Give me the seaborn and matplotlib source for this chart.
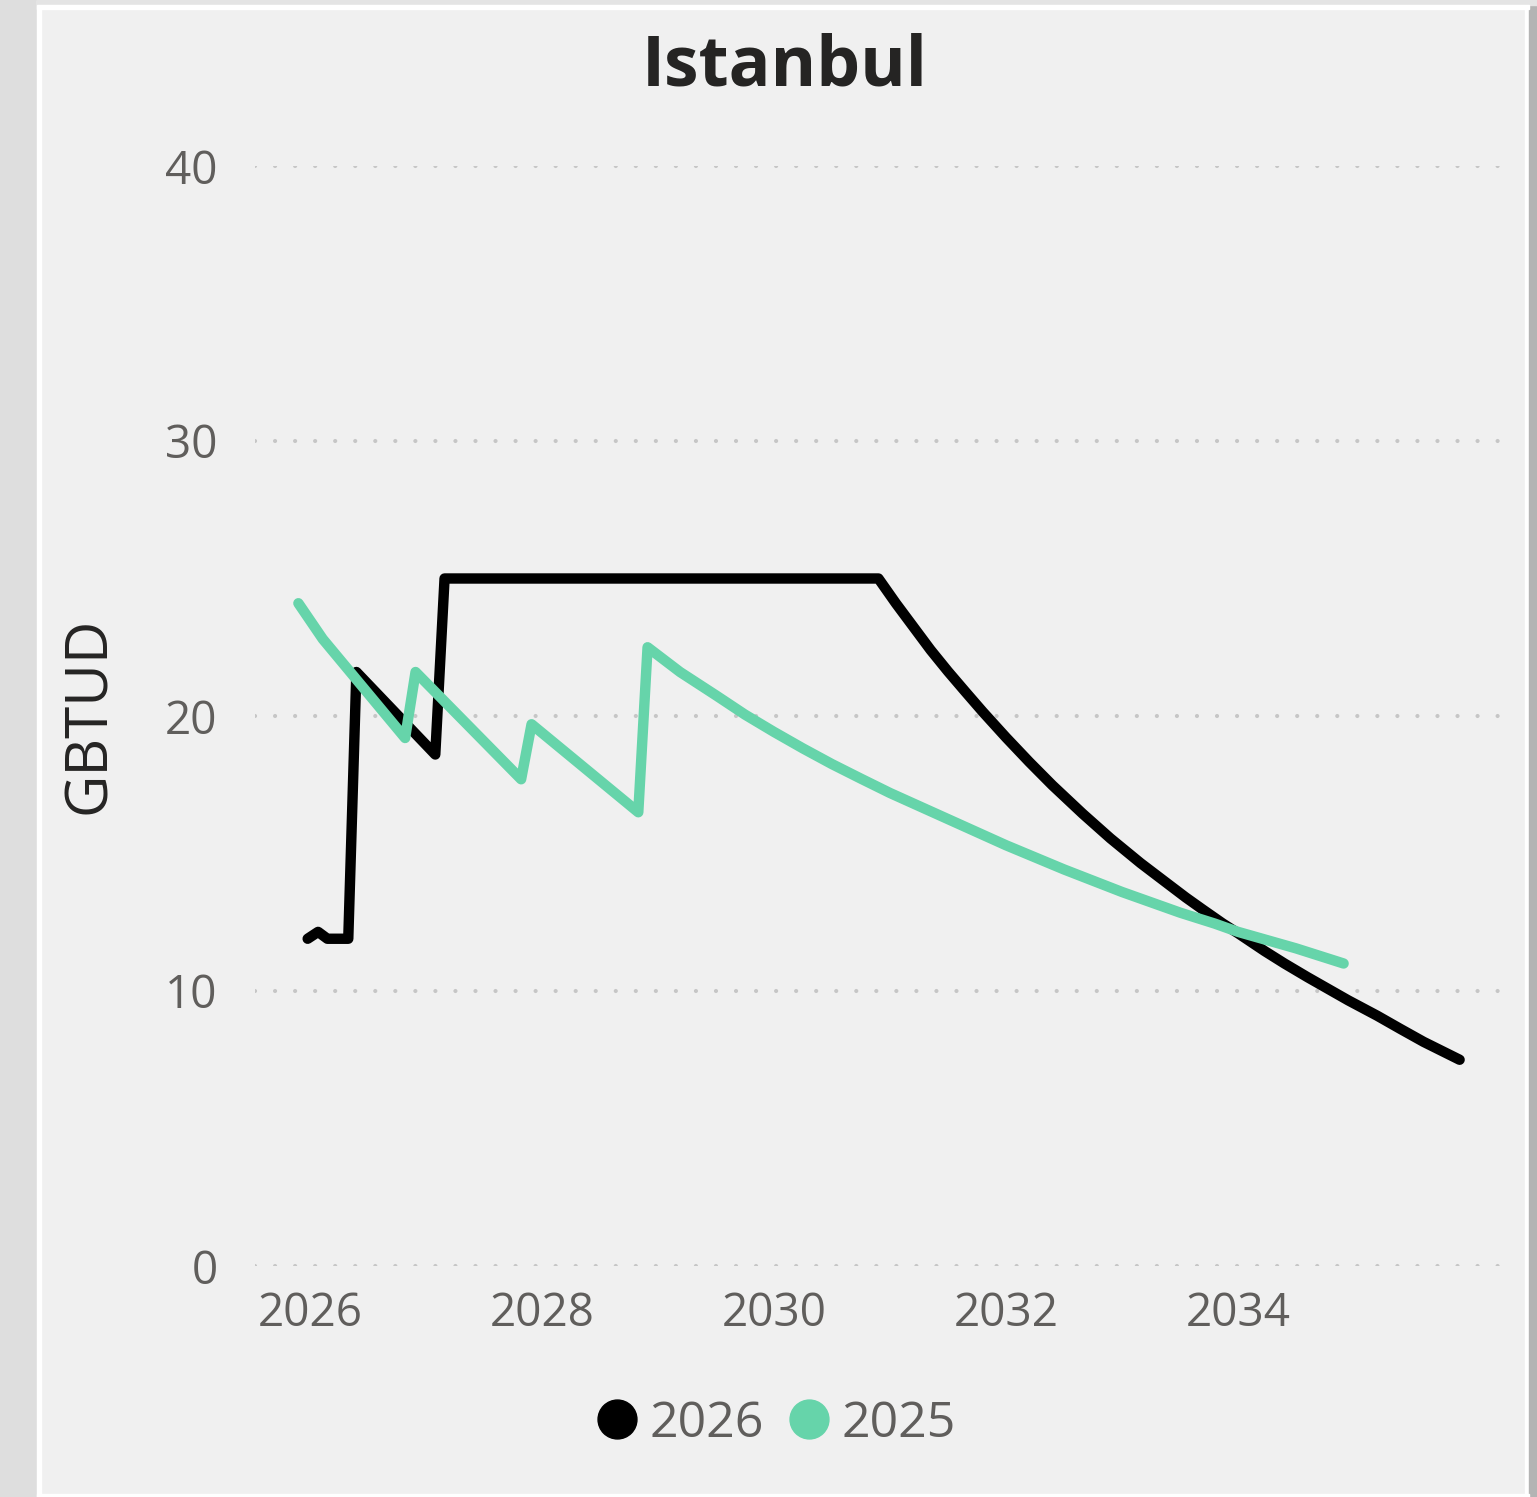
import numpy as np
import pandas as pd
import matplotlib
matplotlib.use("Agg")
import matplotlib.pyplot as plt
from matplotlib.lines import Line2D
from matplotlib.patches import Rectangle
import seaborn as sns

# series (x in fractional years)
years_2026 = [2025.98, 2026.07, 2026.15, 2026.33, 2026.40, 2027.08, 2027.16, 2030.90,
              2031.05, 2031.20, 2031.35, 2031.50, 2031.65, 2031.80, 2032.00, 2032.20,
              2032.40, 2032.66, 2032.90, 2033.16, 2033.40, 2033.55, 2033.70, 2033.87,
              2034.00, 2034.23, 2034.40, 2034.60, 2034.80, 2034.95, 2035.20, 2035.40,
              2035.60, 2035.91]
gbtud_2026 = [11.9, 12.15, 11.9, 11.9, 21.6, 18.6, 25.0, 25.0,
              24.1, 23.25, 22.4, 21.62, 20.88, 20.15, 19.22, 18.33,
              17.48, 16.45, 15.55, 14.65, 13.88, 13.4, 12.95, 12.45,
              12.1, 11.45, 11.0, 10.5, 10.02, 9.66, 9.1, 8.62,
              8.15, 7.5]

years_2025 = [2025.90, 2026.11, 2026.82, 2026.91, 2027.82, 2027.91, 2028.83, 2028.91,
              2029.05, 2029.19, 2029.50, 2029.75, 2030.00, 2030.25, 2030.50, 2030.75,
              2031.00, 2031.50, 2032.00, 2032.50, 2033.00, 2033.50, 2033.80, 2034.00,
              2034.50, 2034.91]
gbtud_2025 = [24.1, 22.8, 19.2, 21.6, 17.7, 19.7, 16.5, 22.5,
              22.05, 21.6, 20.75, 20.05, 19.42, 18.82, 18.25, 17.72,
              17.2, 16.25, 15.3, 14.42, 13.6, 12.85, 12.45, 12.15,
              11.55, 11.0]

series_names = ["2026", "2025"]
series_colors = ["#000000", "#66D4AA"]
x_ticks = [2026, 2028, 2030, 2032, 2034]
y_ticks = [0, 10, 20, 30, 40]

df = pd.concat([
    pd.DataFrame({"year": years_2026, "GBTUD": gbtud_2026, "series": "2026"}),
    pd.DataFrame({"year": years_2025, "GBTUD": gbtud_2025, "series": "2025"}),
])

sns.set_theme(style="white")
plt.rcParams["font.family"] = ["Open Sans", "DejaVu Sans"]

W, H = 1537, 1497
fig = plt.figure(figsize=(W / 100, H / 100), dpi=100, facecolor="#f0f0f0")

# panel frame
fig.patches.append(Rectangle((0, 0), 37 / W, 1, transform=fig.transFigure, color="#dedede", zorder=0))
fig.patches.append(Rectangle((37 / W, 0), 4 / W, 1, transform=fig.transFigure, color="#ffffff", zorder=0))
fig.patches.append(Rectangle((1525 / W, 0), 4 / W, 1, transform=fig.transFigure, color="#ffffff", zorder=0))
fig.patches.append(Rectangle((1529 / W, 0), 8 / W, 1, transform=fig.transFigure, color="#b4b4b4", zorder=0))
fig.patches.append(Rectangle((37 / W, 1 - 5 / H), 1500 / W, 5 / H, transform=fig.transFigure, color="#e4e4e4", zorder=0))
fig.patches.append(Rectangle((37 / W, 1 - 9 / H), 1492 / W, 4 / H, transform=fig.transFigure, color="#ffffff", zorder=0))
fig.patches.append(Rectangle((37 / W, 0), 1492 / W, 3 / H, transform=fig.transFigure, color="#ffffff", zorder=0))

ax = fig.add_axes([255 / W, 1 - 1266 / H, (1503 - 255) / W, 1100 / H])
ax.patch.set_alpha(0)

sns.lineplot(data=df, x="year", y="GBTUD", hue="series", hue_order=series_names,
             palette=series_colors, estimator=None, sort=False, linewidth=7.5,
             legend=False, ax=ax)
for ln in ax.lines:
    ln.set_solid_capstyle("round")
    ln.set_solid_joinstyle("round")
    ln.set_clip_on(False)

ax.set_xlim(2025.526, 2036.284)
ax.set_ylim(0, 40)
ax.set_xticks(x_ticks)
ax.set_xticklabels([str(t) for t in x_ticks])
ax.set_yticks(y_ticks)
ax.set_yticklabels([str(t) for t in y_ticks])
ax.tick_params(axis="both", length=0, labelsize=33, colors="#605E5C")
ax.tick_params(axis="y", pad=27)
ax.tick_params(axis="x", pad=18)
ax.grid(axis="y", color="#c6c6c6", linewidth=3, linestyle=(0, (0.01, 4.8)),
        dash_capstyle="round")
ax.grid(axis="x", visible=False)
ax.set_axisbelow(True)
for s in ax.spines.values():
    s.set_visible(False)
ax.set_xlabel("")
ax.set_ylabel("")

fig.text(90 / W, 1 - 715 / H, "GBTUD", rotation=90, ha="center", va="center",
         fontsize=42, color="#252423")
fig.text(785 / W, 1 - 68 / H, "Istanbul", ha="center", va="center",
         fontsize=50, fontweight="bold", color="#252423")

handles = [Line2D([], [], linestyle="none", marker="o", markersize=28,
                  markerfacecolor=c, markeredgecolor=c) for c in series_colors]
fig.legend(handles, series_names, loc="center", bbox_to_anchor=(775 / W, 1 - 1424 / H),
           ncol=2, frameon=False, fontsize=36, labelcolor="#605E5C",
           handletextpad=0.2, columnspacing=0.45, handlelength=0.9)

fig.savefig("out.png", dpi=100, facecolor=fig.get_facecolor())
